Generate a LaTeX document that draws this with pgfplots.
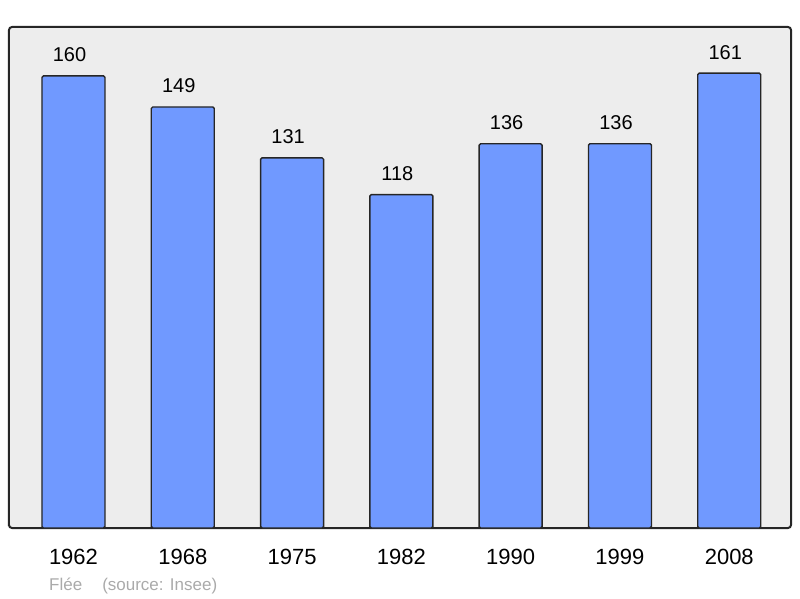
\documentclass[border=0pt]{standalone}
\usepackage{pgfplots}
\pgfplotsset{compat=1.18}
\usepackage{fontspec}
\setmainfont{Liberation Sans}
\definecolor{barblue}{HTML}{7099FF}
\definecolor{panelgray}{HTML}{EDEDED}
\definecolor{srcgray}{HTML}{AAAAAA}
\begin{document}
\begin{tikzpicture}
\begin{axis}[
    name=ax,
    at={(9pt,70pt)}, anchor=south west,
    scale only axis,
    width=782pt, height=501pt,
    xmin=-0.59, xmax=6.565,
    ymin=0, ymax=177.3,
    axis background/.style={fill=panelgray, rounded corners=3pt},
    axis line style={line width=2pt, black!85, rounded corners=3pt},
    ybar, bar width=63pt,
    /pgf/number format/assume math mode=true,
    xtick=data,
    xticklabels={1962,1968,1975,1982,1990,1999,2008},
    ytick=\empty,
    major tick length=0pt,
    tick label style={font=\fontsize{22}{26}\selectfont, text=black},
    xticklabel style={yshift=-18pt},
    nodes near coords,
    nodes near coords style={font=\fontsize{20}{24}\selectfont, anchor=base, yshift=14pt, xshift=-4pt, text=black},
]
\addplot[draw=black!85, line width=1.4pt, fill=barblue, rounded corners=1.5pt]
  coordinates {(0,160) (1,149) (2,131) (3,118) (4,136) (5,136) (6,161)};
\end{axis}
\node[anchor=base west, text=srcgray, font=\fontsize{17}{20}\selectfont, inner sep=0pt] at (49pt,8pt) {Flée\hspace{20pt}(source: Insee)};
\path (0,0) rectangle (800pt,598pt);
\end{tikzpicture}
\end{document}
